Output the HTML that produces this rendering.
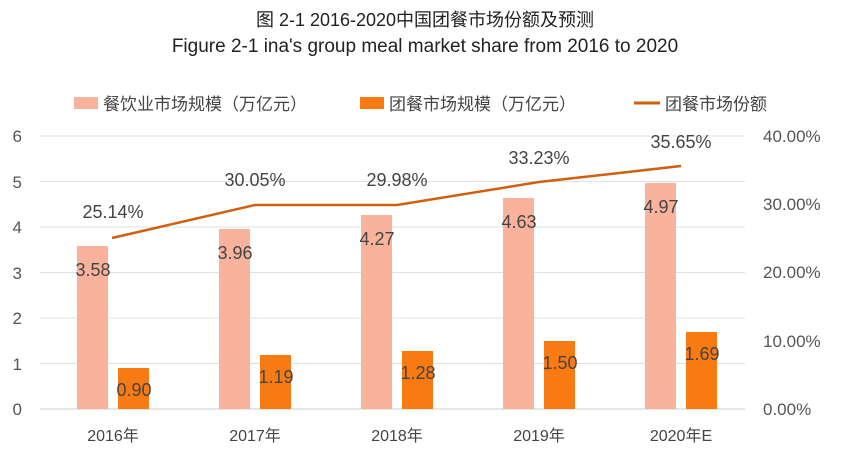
<!DOCTYPE html>
<html><head><meta charset="utf-8"><style>
body{margin:0;background:#fff;}
text{font-family:"Liberation Sans","Noto Sans CJK SC",sans-serif;}
</style></head><body>
<svg width="850" height="453" xmlns="http://www.w3.org/2000/svg">
<rect width="850" height="453" fill="#fff"/>
<text x="425" y="26" font-size="18" text-anchor="middle" fill="#222">图 2-1 2016-2020中国团餐市场份额及预测</text>
<text x="425" y="52" font-size="19" text-anchor="middle" fill="#222">Figure 2-1 ina's group meal market share from 2016 to 2020</text>
<rect x="74" y="97" width="24" height="12" fill="#f9b39c"/>
<text x="103" y="110" font-size="17" fill="#444">餐饮业市场规模（万亿元）</text>
<rect x="360" y="97" width="24" height="12" fill="#f77b12"/>
<text x="389" y="110" font-size="17" fill="#444">团餐市场规模（万亿元）</text>
<line x1="634" y1="103" x2="660" y2="103" stroke="#d0600f" stroke-width="3"/>
<text x="665" y="110" font-size="17" fill="#444">团餐市场份额</text>
<g stroke="#e0e0e0" stroke-width="1">
<line x1="40" y1="136" x2="745" y2="136"/><line x1="40" y1="181.5" x2="745" y2="181.5"/>
<line x1="40" y1="227" x2="745" y2="227"/><line x1="40" y1="272.5" x2="745" y2="272.5"/>
<line x1="40" y1="318" x2="745" y2="318"/><line x1="40" y1="363.5" x2="745" y2="363.5"/>
<line x1="40" y1="409" x2="745" y2="409" stroke="#ccc"/>
</g>
<g font-size="17" fill="#555" text-anchor="end">
<text x="22" y="142">6</text><text x="22" y="188">5</text><text x="22" y="233">4</text><text x="22" y="279">3</text><text x="22" y="324">2</text><text x="22" y="370">1</text><text x="22" y="415">0</text>
</g>
<g font-size="17" fill="#555" text-anchor="start">
<text x="763" y="142">40.00%</text><text x="763" y="210">30.00%</text><text x="763" y="278">20.00%</text><text x="763" y="347">10.00%</text><text x="763" y="415">0.00%</text>
</g>
<g fill="#f9b39c">
<rect x="77" y="246" width="31" height="163"/>
<rect x="219" y="229" width="31" height="180"/>
<rect x="361" y="215" width="31" height="194"/>
<rect x="503" y="198" width="31" height="211"/>
<rect x="645" y="183" width="31" height="226"/>
</g>
<g fill="#f77b12">
<rect x="118" y="368" width="31" height="41"/>
<rect x="260" y="355" width="31" height="54"/>
<rect x="402" y="351" width="31" height="58"/>
<rect x="544" y="341" width="31" height="68"/>
<rect x="686" y="332" width="31" height="77"/>
</g>
<polyline points="112,238 255,205 397,205 539,182 681,166" fill="none" stroke="#d0600f" stroke-width="2.5"/>
<g font-size="18" fill="#444" text-anchor="middle">
<text x="113" y="218">25.14%</text><text x="255" y="186">30.05%</text><text x="397" y="186">29.98%</text><text x="539" y="164">33.23%</text><text x="681" y="148">35.65%</text>
<text x="93" y="276">3.58</text><text x="235" y="259">3.96</text><text x="377" y="245">4.27</text><text x="519" y="228">4.63</text><text x="661" y="213">4.97</text>
<text x="134" y="396">0.90</text><text x="276" y="383">1.19</text><text x="418" y="379">1.28</text><text x="560" y="369">1.50</text><text x="702" y="360">1.69</text>
</g>
<g font-size="16" fill="#444" text-anchor="middle">
<text x="113" y="441">2016年</text><text x="255" y="441">2017年</text><text x="397" y="441">2018年</text><text x="539" y="441">2019年</text><text x="681" y="441">2020年E</text>
</g>
</svg>
</body></html>
